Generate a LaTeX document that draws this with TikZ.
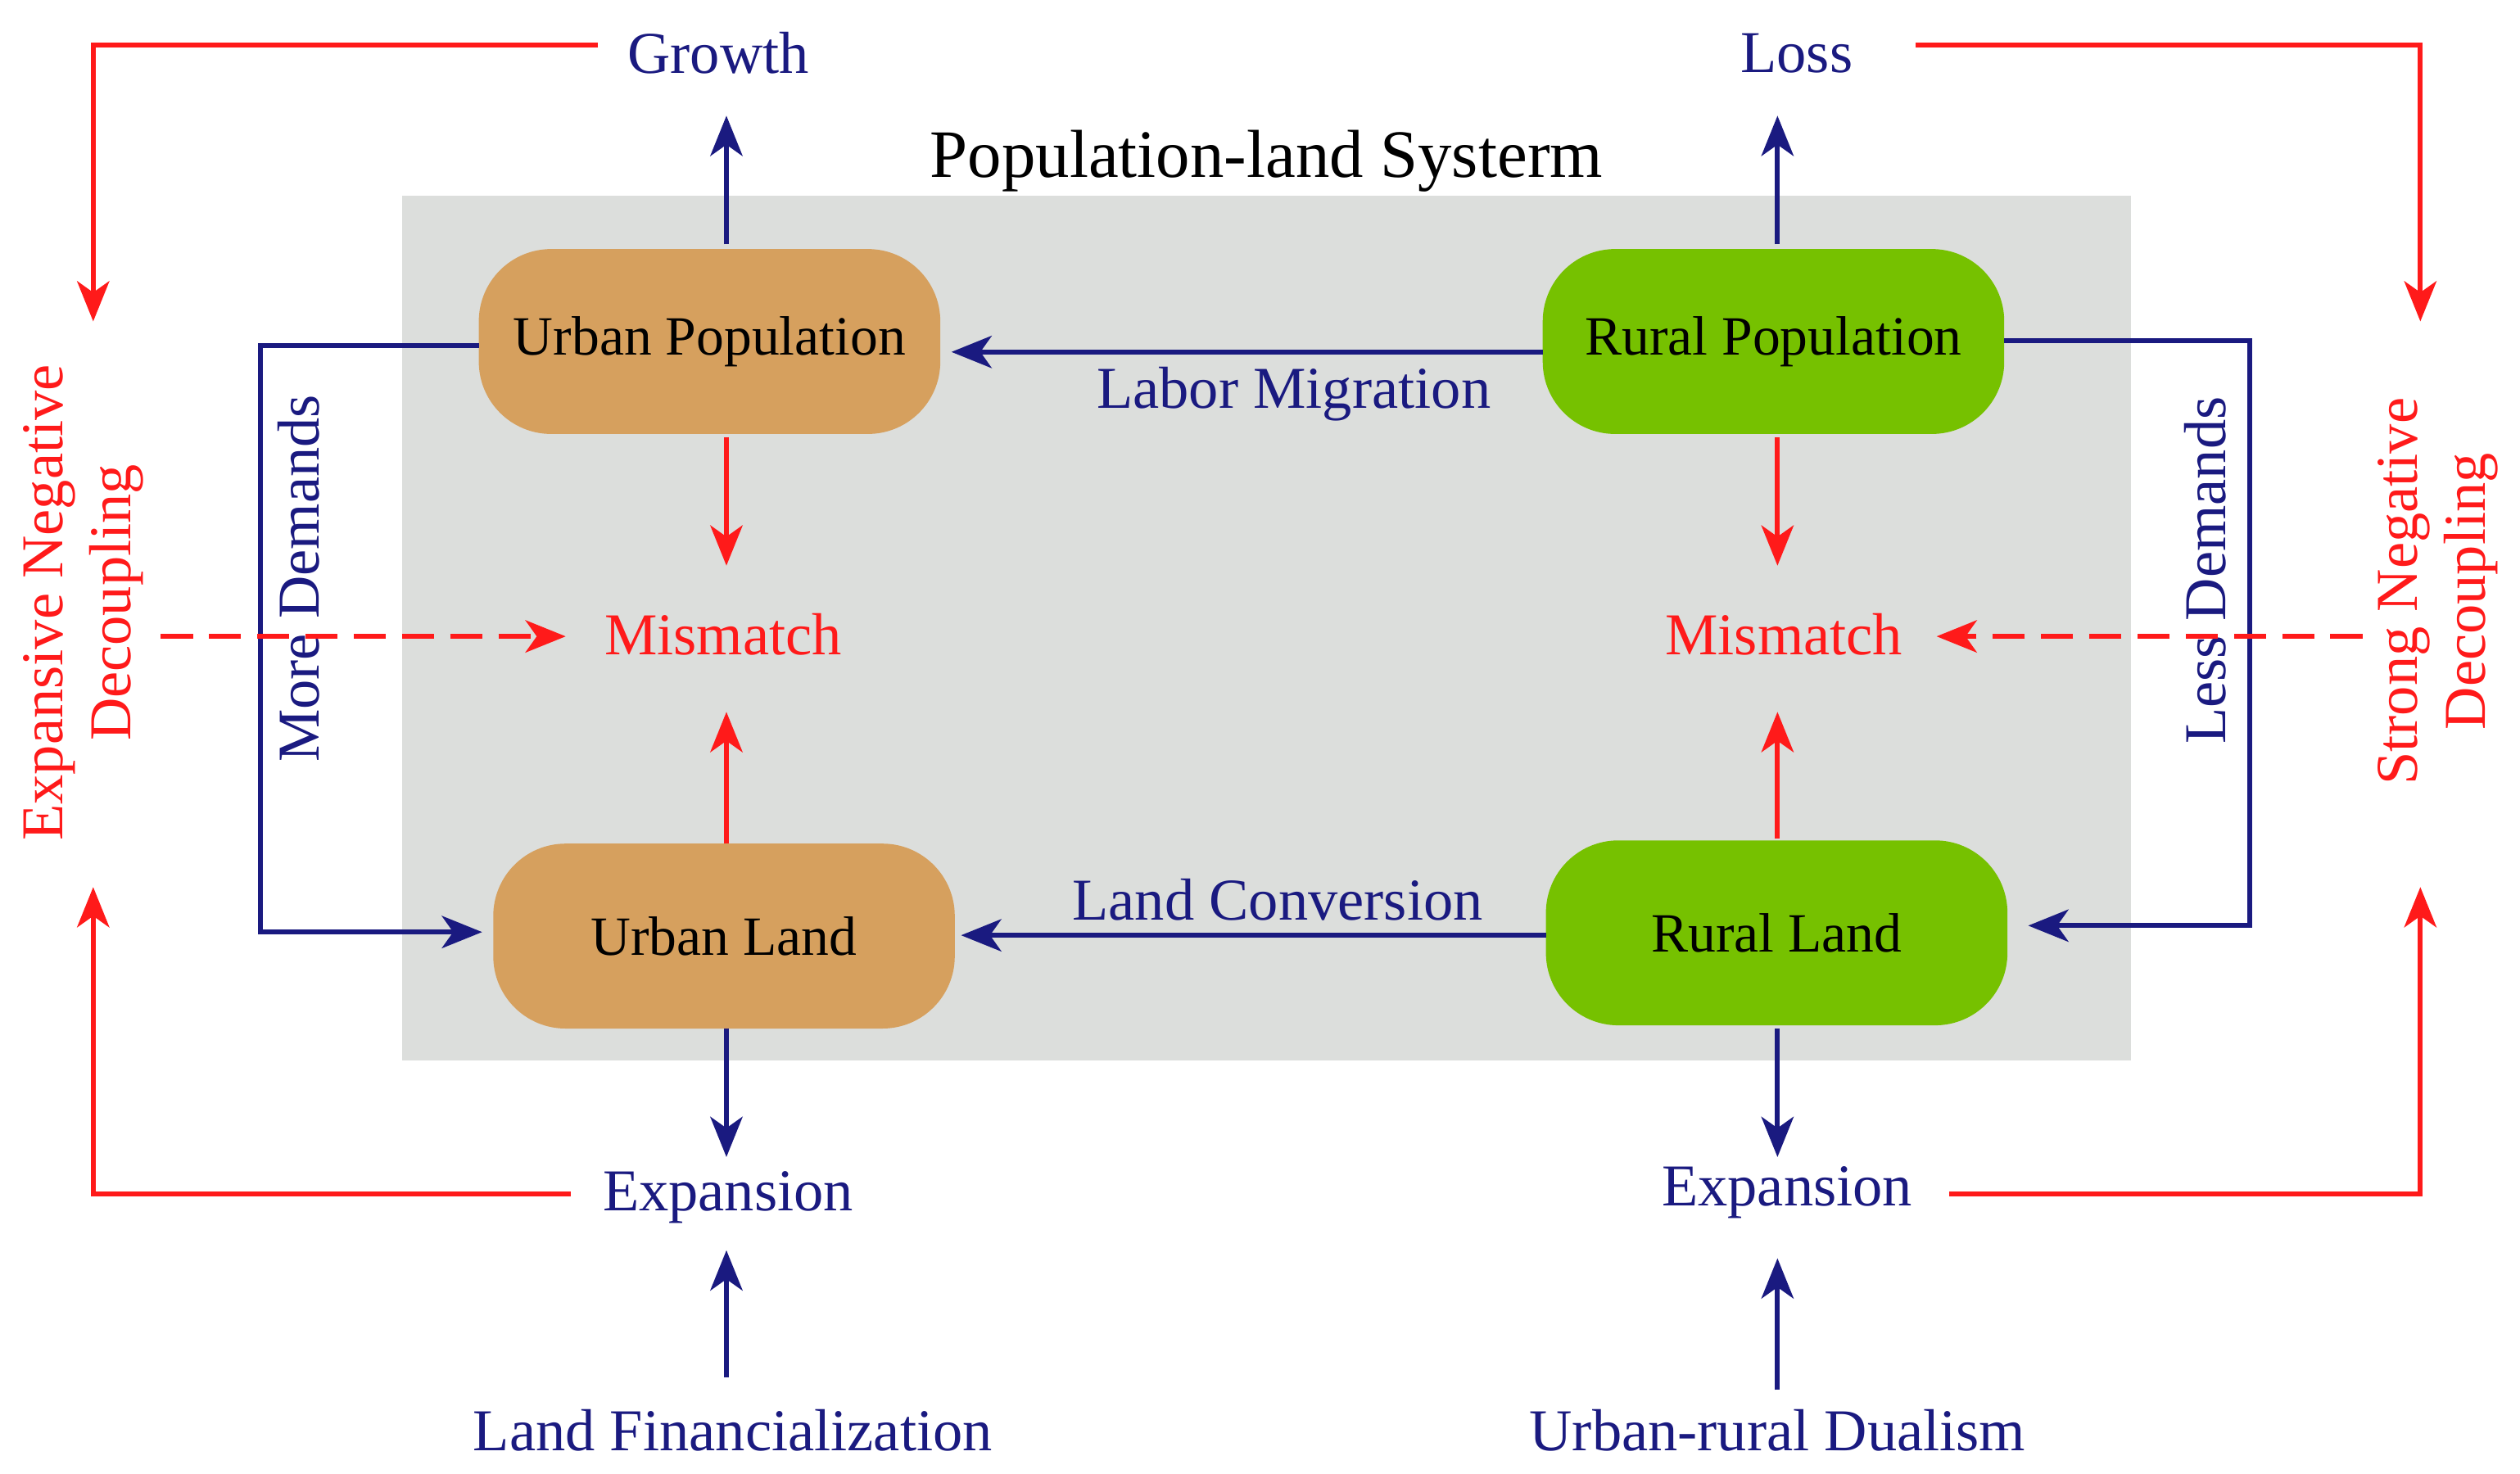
\documentclass[tikz,border=0pt]{standalone}
\usepackage{fontspec}
\setmainfont{Liberation Serif}
\usetikzlibrary{arrows.meta}
\definecolor{navy}{HTML}{1A1A80}
\definecolor{myred}{HTML}{FF1A1A}
\definecolor{tan}{HTML}{D6A05E}
\definecolor{grn}{HTML}{76C100}
\definecolor{bg}{HTML}{DCDEDC}
\begin{document}
\begin{tikzpicture}[x=0.01cm,y=-0.01cm,
  lbl/.style={font=\fontsize{10.5}{12}\selectfont,inner sep=1pt},
  blue lbl/.style={lbl,text=navy},
  red lbl/.style={lbl,text=myred},
  box/.style={rounded corners=0.45cm,minimum width=2.87cm,minimum height=1.15cm,font=\fontsize{9.8}{12}\selectfont,text=black},
  ba/.style={navy,line width=0.9pt,-{Stealth[length=0.25cm,width=0.2cm,inset=0.07cm]}},
  ra/.style={myred,line width=0.9pt,-{Stealth[length=0.25cm,width=0.2cm,inset=0.07cm]}},
  bl/.style={navy,line width=0.9pt},
  rl/.style={myred,line width=0.9pt}]
\useasboundingbox (0,0) rectangle (1568,917);
\fill[bg] (250,122) rectangle (1326,660);
\node[lbl,font=\fontsize{12}{14}\selectfont] (title) at (788,100) {Population-land Systerm};
\node[box,fill=tan] (up) at (441.5,212.5) {Urban Population};
\node[box,fill=grn] (rp) at (1103.5,212.5) {Rural Population};
\node[box,fill=tan] (ul) at (450.5,582.5) {Urban Land};
\node[box,fill=grn] (rl) at (1105.5,580.5) {Rural Land};
\node[blue lbl] (growth) at (447,33) {Growth};
\node[blue lbl] (loss) at (1118,33) {Loss};
\node[red lbl] (mml) at (450,395) {Mismatch};
\node[red lbl] (mmr) at (1110,395) {Mismatch};
\node[blue lbl] (expl) at (453,745) {Expansion};
\node[blue lbl] (expr) at (1112,742) {Expansion};
\node[blue lbl] (lf) at (456,890) {Land Financialization};
\node[blue lbl] (urd) at (1106,890) {Urban-rural Dualism};
\node[blue lbl] (lm) at (805,245) {Labor Migration};
\node[blue lbl] (lc) at (795,560) {Land Conversion};
\node[blue lbl,rotate=90] (md) at (186,360) {More Demands};
\node[blue lbl,rotate=90] (ld) at (1372,355) {Less Demands};
\node[red lbl,rotate=90,align=center] (end) at (52,375) {Expansive Negative\\Decoupling};
\node[red lbl,rotate=90,align=center] (snd) at (1517,368) {Strong Negative\\Decoupling};
% vertical arrows
\coordinate (a1) at (452,152); \coordinate (a1e) at (452,72);
\draw[ba] (a1) -- (a1e);
\coordinate (a2) at (1106,152); \coordinate (a2e) at (1106,72);
\draw[ba] (a2) -- (a2e);
\coordinate (r1) at (452,272); \coordinate (r1e) at (452,352);
\draw[ra] (r1) -- (r1e);
\coordinate (r2) at (452,525); \coordinate (r2e) at (452,443);
\draw[ra] (r2) -- (r2e);
\coordinate (r3) at (1106,272); \coordinate (r3e) at (1106,352);
\draw[ra] (r3) -- (r3e);
\coordinate (r4) at (1106,522); \coordinate (r4e) at (1106,443);
\draw[ra] (r4) -- (r4e);
\coordinate (b1) at (452,640); \coordinate (b1e) at (452,720);
\draw[ba] (b1) -- (b1e);
\coordinate (b2) at (452,857); \coordinate (b2e) at (452,778);
\draw[ba] (b2) -- (b2e);
\coordinate (b3) at (1106,640); \coordinate (b3e) at (1106,720);
\draw[ba] (b3) -- (b3e);
\coordinate (b4) at (1106,865); \coordinate (b4e) at (1106,783);
\draw[ba] (b4) -- (b4e);
% horizontal
\coordinate (h1) at (960,219); \coordinate (h1e) at (592,219);
\draw[ba] (h1) -- (h1e);
\coordinate (h2) at (962,582); \coordinate (h2e) at (598,582);
\draw[ba] (h2) -- (h2e);
% demands
\coordinate (m1) at (298,215); \coordinate (m2) at (300,580);
\draw[ba] (m1) -- (162,215) -- (162,580) -- (m2);
\coordinate (l1) at (1247,212); \coordinate (l2) at (1262,576);
\draw[ba] (l1) -- (1400,212) -- (1400,576) -- (l2);
% outer red
\coordinate (o1) at (372,28); \coordinate (o1e) at (58,200);
\draw[ra] (o1) -- (58,28) -- (o1e);
\coordinate (o2) at (355,743); \coordinate (o2e) at (58,552);
\draw[ra] (o2) -- (58,743) -- (o2e);
\coordinate (o3) at (1192,28); \coordinate (o3e) at (1506,200);
\draw[ra] (o3) -- (1506,28) -- (o3e);
\coordinate (o4) at (1213,743); \coordinate (o4e) at (1506,552);
\draw[ra] (o4) -- (1506,743) -- (o4e);
% dashed
\coordinate (d1) at (100,396); \coordinate (d1e) at (352,396);
\draw[ra,dashed,dash pattern=on 0.2cm off 0.1cm] (d1) -- (d1e);
\coordinate (d2) at (1470,396); \coordinate (d2e) at (1205,396);
\draw[ra,dashed,dash pattern=on 0.2cm off 0.1cm] (d2) -- (d2e);
\end{tikzpicture}
\end{document}
